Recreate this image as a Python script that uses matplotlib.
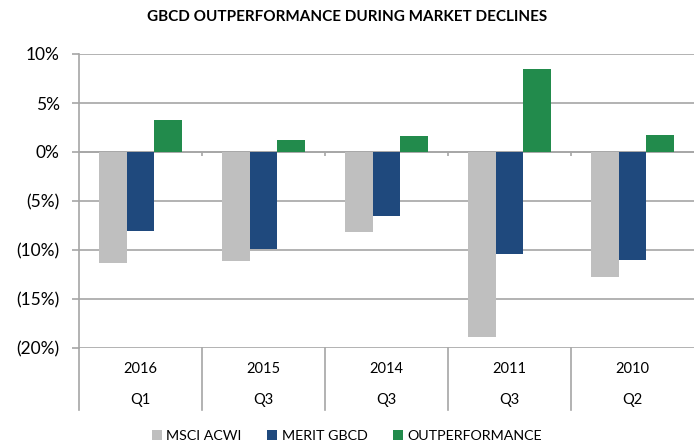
import numpy as np
import matplotlib
matplotlib.use('Agg')
import matplotlib.pyplot as plt
from matplotlib.ticker import FuncFormatter

years = ['2016', '2015', '2014', '2011', '2010']
quarters = ['Q1', 'Q3', 'Q3', 'Q3', 'Q2']
msci_acwi = [-11.3, -11.1, -8.2, -18.9, -12.8]
merit_gbcd = [-8.1, -9.9, -6.5, -10.4, -11.0]
outperformance = [3.3, 1.2, 1.6, 8.5, 1.7]

series = [('MSCI ACWI', msci_acwi, '#bfbfbf'),
          ('MERIT GBCD', merit_gbcd, '#1f497d'),
          ('OUTPERFORMANCE', outperformance, '#228b4c')]

plt.rcParams['font.family'] = ['Lato', 'DejaVu Sans']
grid_color = '#a6a6a6'

fig = plt.figure(figsize=(6.94, 4.43), dpi=100)
ax = fig.add_axes([79 / 694, 1 - 348 / 443, 615 / 694, 294 / 443])

x = np.arange(len(years))
w = 0.223
for i, (name, vals, color) in enumerate(series):
    ax.bar(x + (i - 1) * w, vals, width=w, color=color, label=name, zorder=3)

ax.set_xlim(-0.5, len(years) - 0.5)
ax.set_ylim(-20, 10)
ax.set_yticks(np.arange(-20, 11, 5))
ax.yaxis.set_major_formatter(FuncFormatter(
    lambda v, p: '%d%%' % v if v >= 0 else '(%d%%)' % -v))
ax.yaxis.grid(True, color=grid_color, linewidth=1.2, zorder=0)
ax.tick_params(axis='y', length=5, width=1.2, color=grid_color,
               labelsize=12.5, pad=9)
ax.set_xticks([])

for s in ['top', 'right', 'bottom']:
    ax.spines[s].set_visible(False)
ax.spines['left'].set_color(grid_color)
ax.spines['left'].set_linewidth(1.2)

# category axis at zero with small ticks at the group boundaries
ax.axhline(0, color=grid_color, linewidth=1.2, zorder=2)
bounds = np.arange(len(years) + 1) - 0.5
ax.vlines(bounds[1:-1], -0.45, 0, color=grid_color, linewidth=1.2, zorder=2)

# two-level category labels below the plot
trans = ax.get_xaxis_transform()
for b in bounds[:-1]:
    ax.plot([b, b], [0, -0.211], transform=trans, color=grid_color,
            linewidth=1.2, clip_on=False)
for xi, yr, q in zip(x, years, quarters):
    ax.text(xi, -0.071, yr, transform=trans, ha='center', va='center',
            fontsize=10.5)
    ax.text(xi, -0.177, q, transform=trans, ha='center', va='center',
            fontsize=10.5)

fig.text(0.5, 1 - 17 / 443, 'GBCD OUTPERFORMANCE DURING MARKET DECLINES',
         ha='center', va='center', fontsize=11, fontweight='bold')

fig.legend(loc='center', bbox_to_anchor=(0.5, 1 - 436 / 443), ncol=3,
           frameon=False, fontsize=10.3, handlelength=0.7, handleheight=0.7,
           handletextpad=0.3, columnspacing=1.8)

fig.savefig('out.png', dpi=100)
